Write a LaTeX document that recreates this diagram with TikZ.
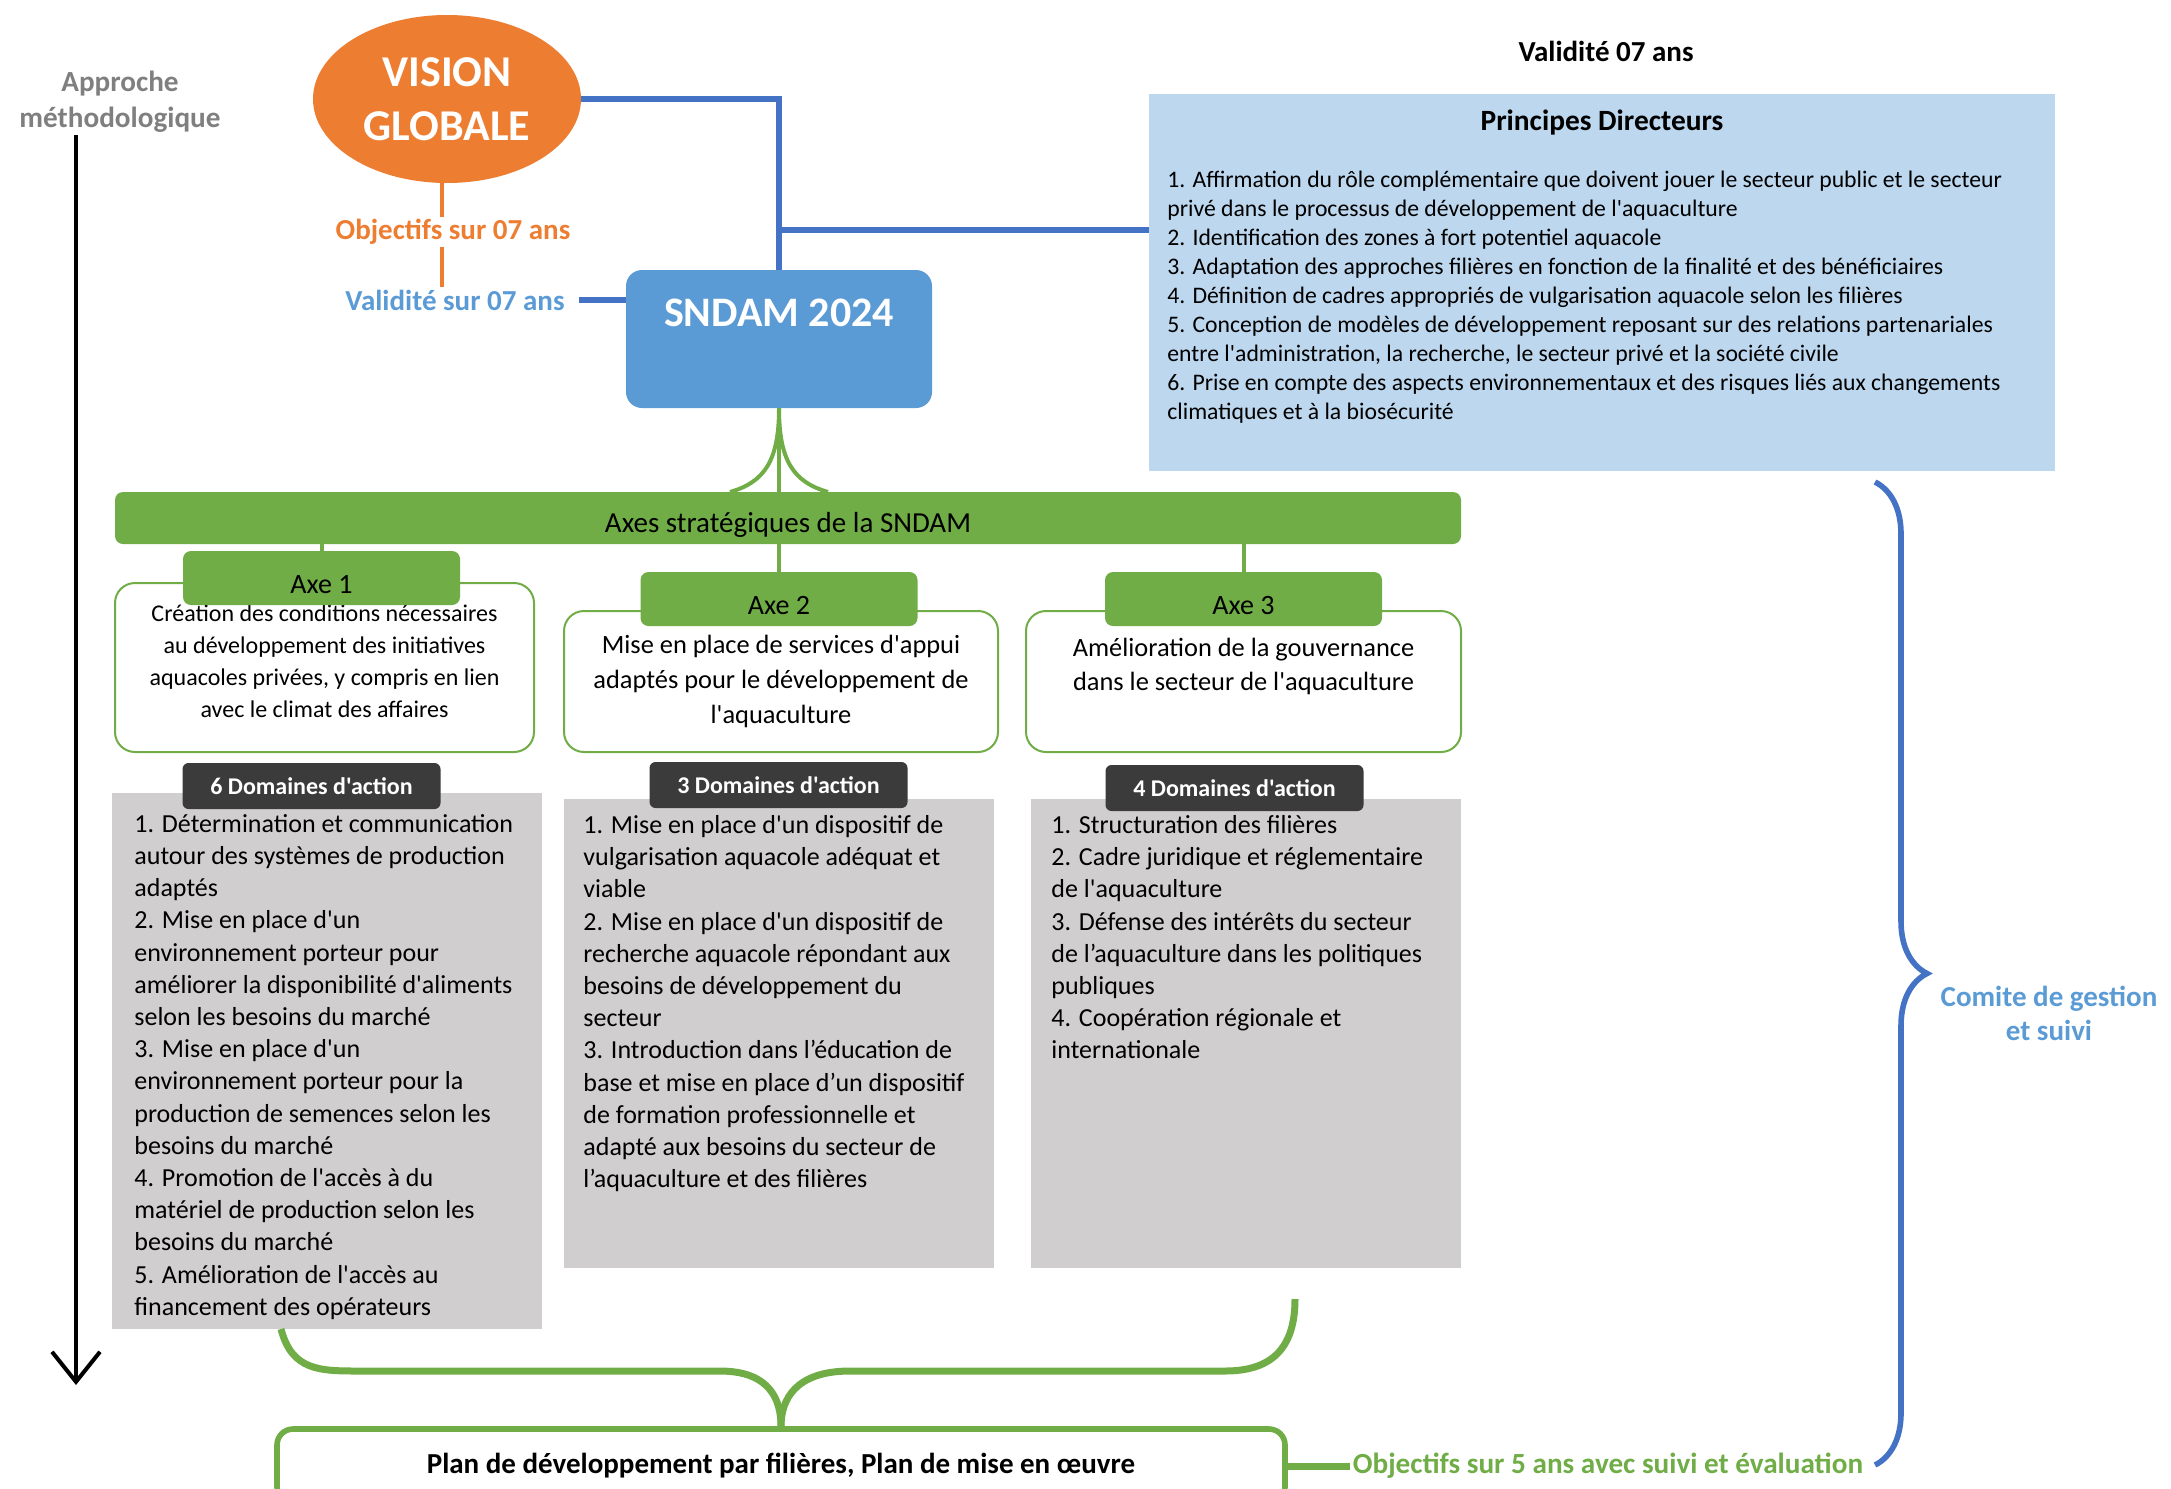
\documentclass[tikz,border=0pt]{standalone}
\usepackage{fontspec}
\setmainfont{Carlito}[Ligatures=TeXOff]
\usetikzlibrary{shapes.geometric,arrows.meta,decorations.pathreplacing}

\definecolor{visionorange}{HTML}{ED7D31}
\definecolor{sndamblue}{HTML}{5B9BD5}
\definecolor{linkblue}{HTML}{4472C4}
\definecolor{princblue}{HTML}{BDD7EE}
\definecolor{axegreen}{HTML}{70AD47}
\definecolor{domgrey}{HTML}{D0CECE}
\definecolor{tabdark}{HTML}{3B3B3B}
\definecolor{approgrey}{HTML}{7F7F7F}

\begin{document}
\begin{tikzpicture}[x=0.5pt, y=-0.5pt]
\tikzstyle{vision} = [ellipse, fill=visionorange, minimum width=134pt, minimum height=84pt, inner sep=0pt, text=white, align=center, font=\fontsize{22}{27}\selectfont\bfseries]
\tikzstyle{sndambox} = [rectangle, rounded corners=8pt, fill=sndamblue, minimum width=153pt, minimum height=69pt, inner sep=0pt, text=white, text height=15pt, text depth=28pt, font=\fontsize{21}{24}\selectfont\bfseries]
\tikzstyle{tag} = [inner sep=1pt, font=\fontsize{14.5}{16}\selectfont\bfseries]
\tikzstyle{princbox} = [rectangle, fill=princblue, minimum width=453pt, minimum height=188.5pt, inner sep=0pt]
\tikzstyle{princlist} = [anchor=north west, inner sep=0pt, align=left, font=\fontsize{11.85}{14.5}\selectfont]
\tikzstyle{axesbar} = [rectangle, rounded corners=4pt, fill=axegreen, minimum width=673pt, minimum height=26pt, inner sep=0pt, text height=14pt, text depth=0pt, font=\fontsize{14.5}{16}\selectfont]
\tikzstyle{axehead} = [rectangle, rounded corners=4pt, fill=axegreen, minimum width=138.5pt, minimum height=27pt, inner sep=0pt, text height=15.5pt, text depth=0pt, font=\fontsize{14}{16}\selectfont]
\tikzstyle{axebox} = [rectangle, rounded corners=10pt, draw=axegreen, line width=1pt, fill=white, align=center, inner sep=0pt]
\tikzstyle{domtab} = [rectangle, rounded corners=3pt, fill=tabdark, text=white, minimum width=129pt, minimum height=23pt, inner sep=0pt, font=\fontsize{12}{14}\selectfont\bfseries]
\tikzstyle{dombox} = [rectangle, fill=domgrey, minimum width=215pt, inner sep=0pt]
\tikzstyle{domlist} = [anchor=north west, inner sep=0pt, align=left, font=\fontsize{13}{16.1}\selectfont]
\tikzstyle{planbox} = [rectangle, rounded corners=8pt, draw=axegreen, line width=2.8pt, fill=white, minimum width=504pt, minimum height=37pt, inner sep=0pt, font=\fontsize{14.5}{16}\selectfont\bfseries]
\tikzstyle{olink} = [visionorange, line width=2pt]
\tikzstyle{blink} = [linkblue, line width=2.8pt]
\tikzstyle{glink} = [axegreen, line width=2pt]
\tikzstyle{gbrace} = [axegreen, line width=3.5pt]
\tikzstyle{arrowblack} = [black, line width=2pt, -{Straight Barb[length=15pt, width=24pt]}]

\useasboundingbox (0,0) rectangle (2171,1488);

\node [tag, approgrey, font=\fontsize{14.6}{18}\selectfont\bfseries, align=center] (appro) at (120,102) {Approche\\méthodologique};
\coordinate (arrend) at (76,1385);
\draw [arrowblack] (appro.south -| arrend) -- (arrend);

\node [vision] (vision) at (447,99) {VISION\\GLOBALE};
\node [tag, visionorange] (obj7) at (453,232) {Objectifs sur 07 ans};
\node [tag, sndamblue] (val7) at (455,300) {Validité sur 07 ans};
\node [sndambox] (sndam) at (779,339) {SNDAM 2024};
\node [tag] (valid) at (1606,51) {Validité 07 ans};
\node [princbox] (principes) at (1602,282.5) {};
\node [tag, font=\fontsize{14.7}{16}\selectfont\bfseries] (ptitle) at (1602,122) {Principes Directeurs};
\node [princlist] (plist) at (1167,171) {1. Affirmation du rôle complémentaire que doivent jouer le secteur public et le secteur\\
privé dans le processus de développement de l'aquaculture\\
2. Identification des zones à fort potentiel aquacole\\
3. Adaptation des approches filières en fonction de la finalité et des bénéficiaires\\
4. Définition de cadres appropriés de vulgarisation aquacole selon les filières\\
5. Conception de modèles de développement reposant sur des relations partenariales\\
entre l'administration, la recherche, le secteur privé et la société civile\\
6. Prise en compte des aspects environnementaux et des risques liés aux changements\\
climatiques et à la biosécurité};

\draw [olink] (vision.south -| 442,0) -- (obj7.north -| 442,0);
\draw [olink] (obj7.south -| 442,0) -- (val7.north -| 442,0);
\draw [blink, shorten <=6pt] (val7.east) -- (val7.east -| sndam.west);
\draw [blink] (vision.east) -| (sndam.north);
\coordinate (junc) at (779,230);
\draw [blink] (junc) -- (junc -| principes.west);

\node [axesbar] (axes) at (788,518) {Axes stratégiques de la SNDAM};
\draw [glink] (sndam.south) -- (sndam.south |- axes.north);
\draw [glink] (sndam.south) .. controls (779,460) and (765,482) .. (730,492);
\draw [glink] (sndam.south) .. controls (779,460) and (793,482) .. (828,492);

\node [axebox, minimum width=209.5pt, minimum height=84.5pt, font=\fontsize{12}{16}\selectfont] (axe1) at (324.5,667.5) {Création des conditions nécessaires\\au développement des initiatives\\aquacoles privées, y compris en lien\\avec le climat des affaires\\[-10pt]\mbox{}};
\node [axebox, minimum width=217pt, minimum height=70.5pt, font=\fontsize{13.2}{17.3}\selectfont] (axe2) at (781,681.5) {Mise en place de services d'appui\\adaptés pour le développement de\\l'aquaculture};
\node [axebox, minimum width=217.5pt, minimum height=70.5pt, font=\fontsize{13.2}{17.3}\selectfont] (axe3) at (1243.5,681.5) {Amélioration de la gouvernance\\dans le secteur de l'aquaculture\\~};
\node [axehead] (axe1h) at (321.5,578) {Axe 1};
\node [axehead] (axe2h) at (779,599) {Axe 2};
\node [axehead] (axe3h) at (1243.5,599) {Axe 3};
\draw [glink] (axe1h.north) -- (axe1h.north |- axes.south);
\draw [glink] (axe2h.north) -- (axe2h.north |- axes.south);
\draw [glink] (axe3h.north) -- (axe3h.north |- axes.south);

\node [dombox, minimum height=268pt] (dom1) at (327,1061) {};
\node [dombox, minimum height=234.5pt] (dom2) at (779,1033.5) {};
\node [dombox, minimum height=234.5pt] (dom3) at (1246,1033.5) {};
\node [domtab] (tab1) at (311.5,786) {6 Domaines d'action};
\node [domtab] (tab2) at (778.5,785) {3 Domaines d'action};
\node [domtab] (tab3) at (1234.5,788) {4 Domaines d'action};
\node [domlist] (list1) at (134,814) {1. Détermination et communication\\
autour des systèmes de production\\
adaptés\\
2. Mise en place d'un\\
environnement porteur pour\\
améliorer la disponibilité d'aliments\\
selon les besoins du marché\\
3. Mise en place d'un\\
environnement porteur pour la\\
production de semences selon les\\
besoins du marché\\
4. Promotion de l'accès à du\\
matériel de production selon les\\
besoins du marché\\
5. Amélioration de l'accès au\\
financement des opérateurs};
\node [domlist] (list2) at (583,815) {1. Mise en place d'un dispositif de\\
vulgarisation aquacole adéquat et\\
viable\\
2. Mise en place d'un dispositif de\\
recherche aquacole répondant aux\\
besoins de développement du\\
secteur\\
3. Introduction dans l’éducation de\\
base et mise en place d’un dispositif\\
de formation professionnelle et\\
adapté aux besoins du secteur de\\
l’aquaculture et des filières};
\node [domlist] (list3) at (1051,815) {1. Structuration des filières\\
2. Cadre juridique et réglementaire\\
de l'aquaculture\\
3. Défense des intérêts du secteur\\
de l’aquaculture dans les politiques\\
publiques\\
4. Coopération régionale et\\
internationale};

\node [planbox] (plan) at (781,1466) {Plan de développement par filières, Plan de mise en œuvre};
\coordinate (bl) at (281,1329);
\coordinate (br) at (1295,1299);
\draw [gbrace] (bl) .. controls (292,1371) and (320,1371) .. (360,1371) -- (720,1371) .. controls (770,1371) and (781,1400) .. (plan.north);
\draw [gbrace] (br) .. controls (1295,1350) and (1270,1371) .. (1225,1371) -- (850,1371) .. controls (795,1371) and (781,1400) .. (plan.north);

\node [tag, axegreen, font=\fontsize{14.6}{16}\selectfont\bfseries] (obj5) at (1608,1466) {Objectifs sur 5 ans avec suivi et évaluation};
\draw [gbrace] (plan.east) -- (obj5.west);

\coordinate (bt) at (1875,482);
\coordinate (bb) at (1875,1465);
\draw [blink, decorate, decoration={brace, amplitude=26pt}] (bt) -- (bb);
\node [tag, sndamblue, font=\fontsize{14.5}{17}\selectfont\bfseries, align=center] (comite) at (2049,1013) {Comite de gestion\\et suivi};
\end{tikzpicture}
\end{document}
